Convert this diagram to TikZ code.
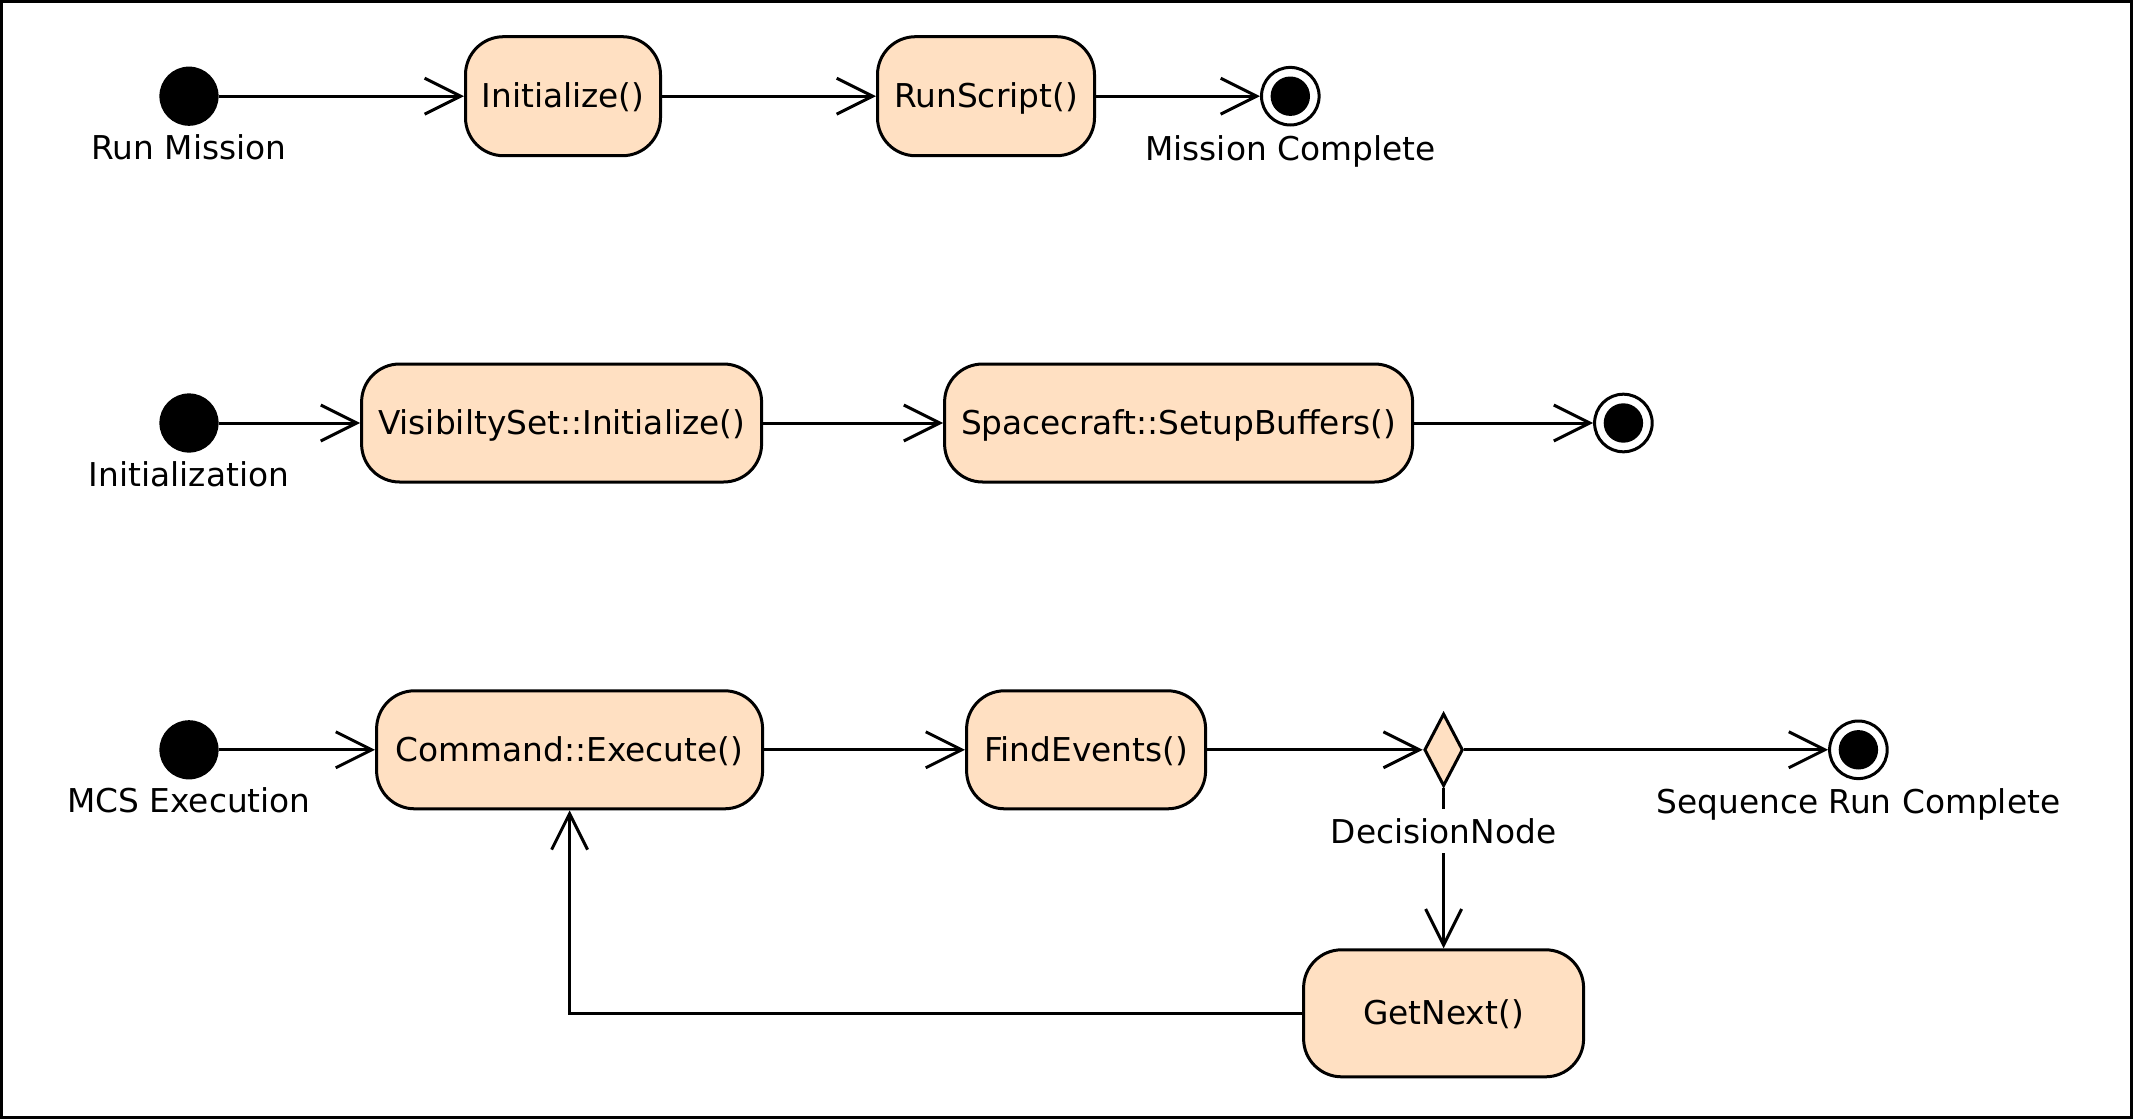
\documentclass[tikz,border=0pt]{standalone}
\usepackage{fontspec}
\setmainfont{DejaVu Sans}
\usepackage{xcolor}
\usepackage{tikz}
\usetikzlibrary{positioning}
\usetikzlibrary{shapes,arrows.meta,positioning}
\definecolor{peach}{RGB}{255,224,194}
\tikzstyle{block} = [rectangle, draw, fill=peach, text centered, rounded corners=19pt, minimum height=59pt,
text height=15.2pt, text depth=3.9pt]
\tikzstyle{startnode} = [circle, draw, fill=black, minimum size=28.1pt, inner sep=0pt]
\tikzstyle{endnode} = [circle, draw, fill=white, minimum size=28.8pt, inner sep=0pt,
path picture={\fill[black] (path picture bounding box.center) circle (9.85pt);}]
\tikzstyle{decision} = [diamond, draw, fill=peach, minimum width=19.3pt, minimum height=36.3pt, inner sep=0pt]
\tikzstyle{tag} = [inner sep=0pt, outer sep=0pt]
\tikzstyle{line} = [draw, -{Straight Barb[length=18pt, width=18pt]}]

\begin{document}
\begin{tikzpicture}[line width=1.5pt, font=\fontsize{16.4}{19.7}\selectfont, label distance=4.3pt, every label/.style={tag}]
\useasboundingbox (0,0) rectangle (1066.5pt,-559.5pt);
\draw (0.75pt,-0.75pt) rectangle (1065.75pt,-558.75pt);
    % nodes
\node [startnode, label=below:Run Mission] (runm) at (94.5pt,-48.1pt) {};
\node [block, right=122.7pt of runm, minimum width=97.5pt, minimum height=59.5pt] (init) {Initialize()};
\node [block, right=107pt of init, minimum width=108.5pt, minimum height=59.5pt] (runs) {RunScript()};
\node [endnode, right=82pt of runs, label=below:Mission Complete] (mcompl) {};

\node [startnode, below=133.8pt of runm, label=below:Initialization] (initz) {};
\node [block, right=70.75pt of initz, minimum width=200pt] (visinit) {VisibiltySet::Initialize()};
\node [block, right=90pt of visinit, minimum width=234pt] (setbuf) {Spacecraft::SetupBuffers()};
\node [endnode, right=89.5pt of setbuf] (initend) {};

\node [startnode, below=133.8pt of initz, label=below:MCS Execution] (mcs) {};
\node [block, right=78.25pt of mcs, minimum width=193pt] (cmdexe) {Command::Execute()};
\node [block, right=100.5pt of cmdexe, minimum width=119.5pt] (findev) {FindEvents()};
\node [decision, right=107.85pt of findev] (dec) {};
\node [endnode, right=181.85pt of dec, label=below:Sequence Run Complete] (seqend) {};
\node [block, below=80.35pt of dec, minimum width=140pt, minimum height=63.5pt] (getnext) {GetNext()};

%edges
\path [line] (runm) -- (init);
\path [line] (init) -- (runs);
\path [line] (runs) -- (mcompl);
\path [line] (initz) -- (visinit);
\path [line] (visinit) -- (setbuf);
\path [line] (setbuf) -- (initend);
\path [line] (mcs) -- (cmdexe);
\path [line] (cmdexe) -- (findev);
\path [line] (findev) -- (dec);
\path [line] (dec) -- (seqend);
\path [line] (dec) -- (getnext);
\path [line] (getnext) -| (cmdexe);
\node [tag, fill=white, inner sep=4.5pt, below=10.8pt of dec] (decname) {DecisionNode};
\end{tikzpicture}
\end{document}
